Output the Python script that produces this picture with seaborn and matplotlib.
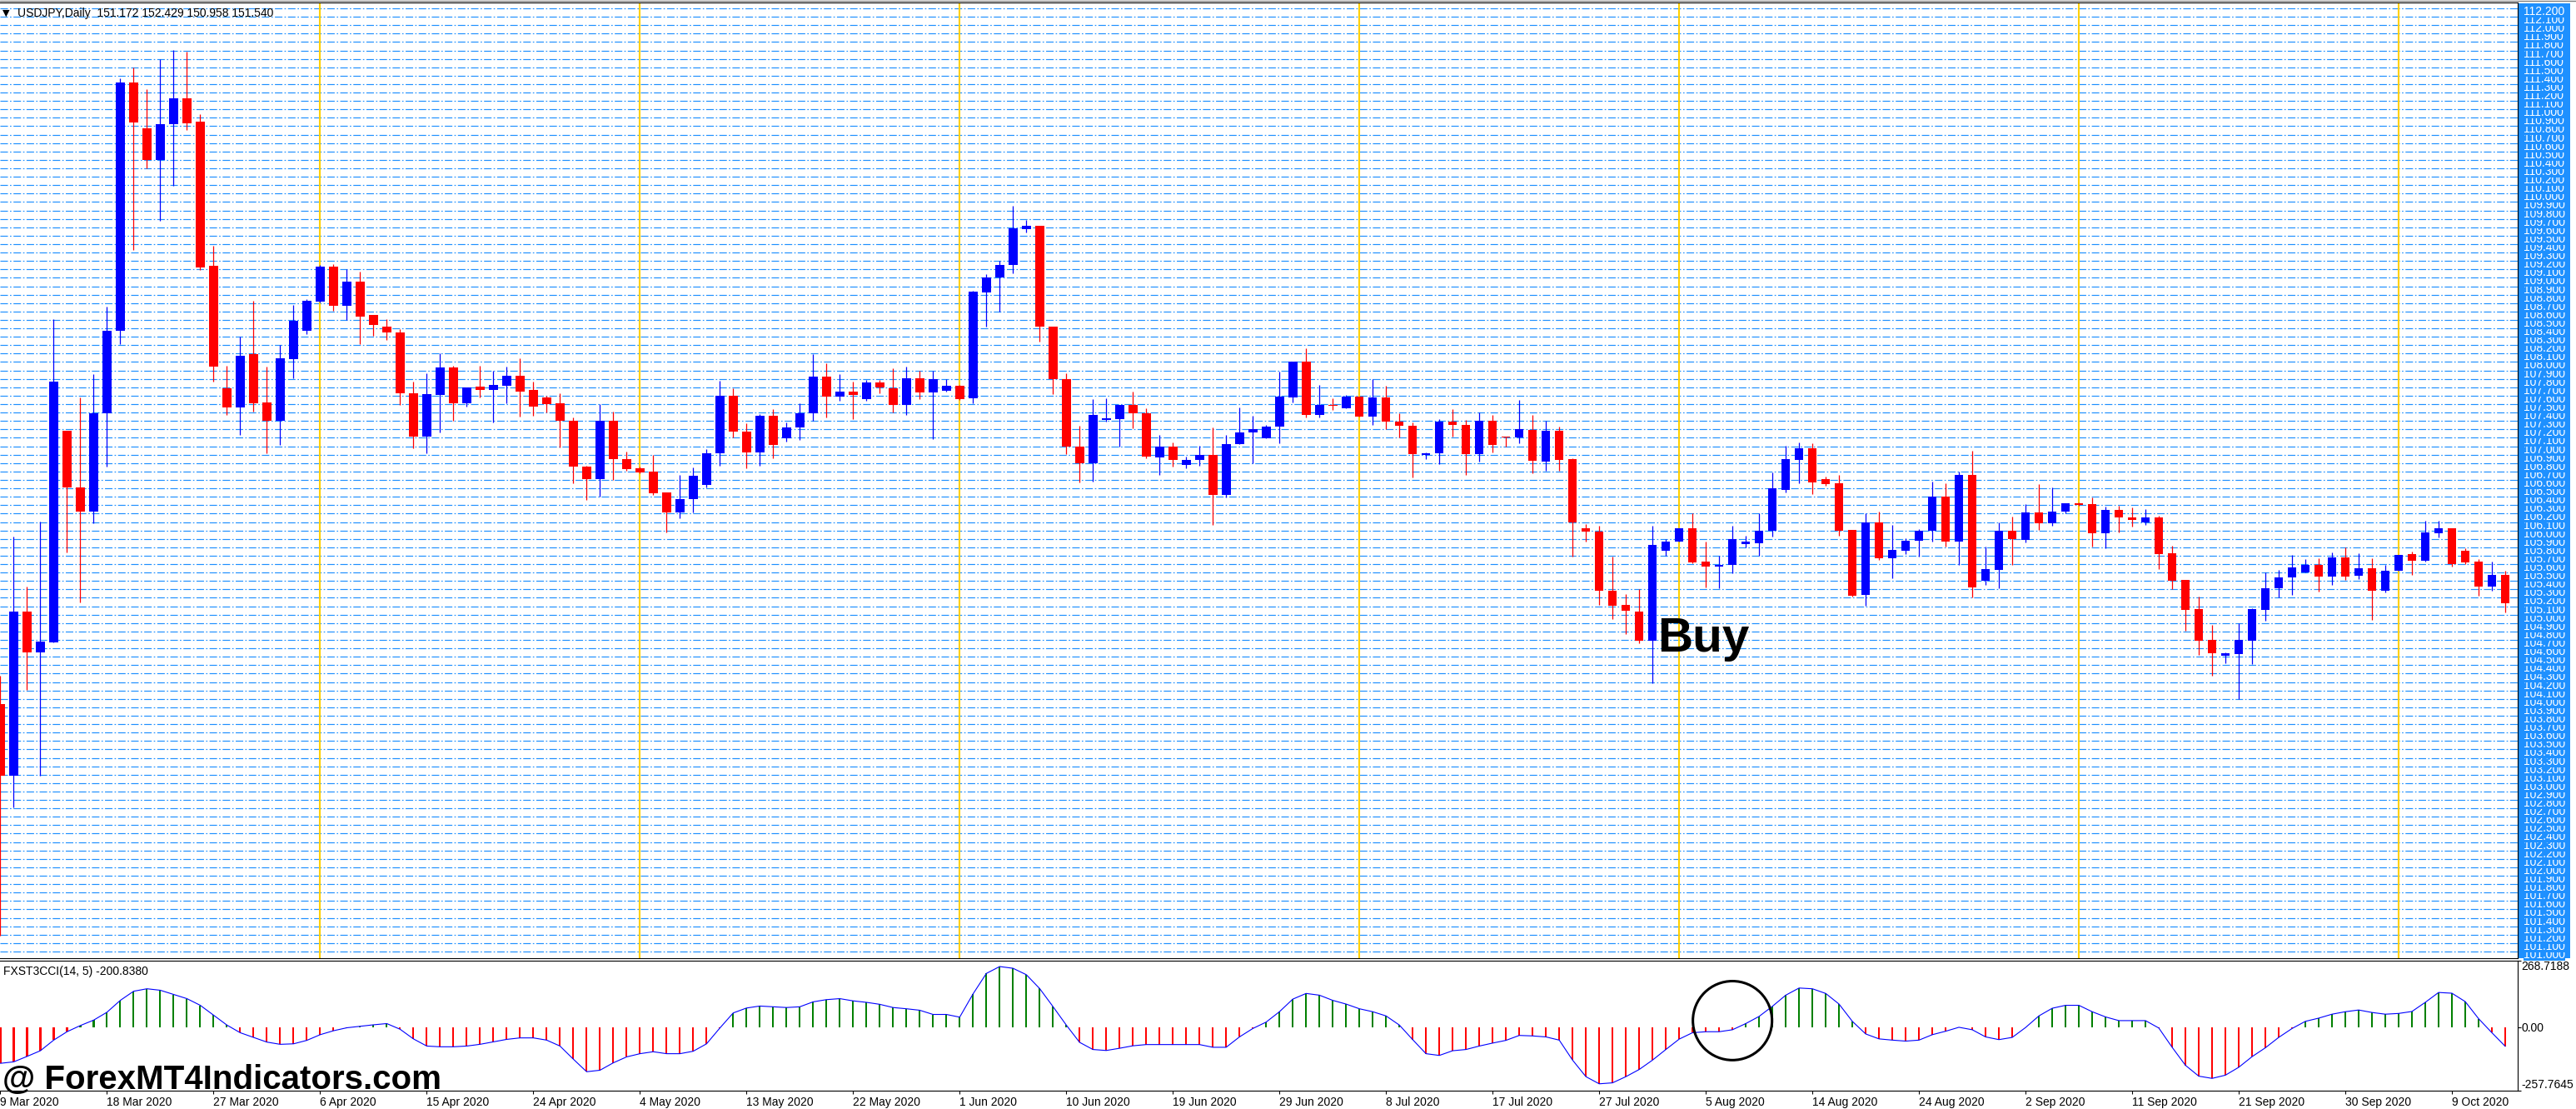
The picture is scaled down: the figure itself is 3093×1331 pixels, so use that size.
import numpy as np
import pandas as pd
import matplotlib
matplotlib.use("Agg")
import matplotlib.pyplot as plt
import matplotlib.transforms as mtransforms
from matplotlib.patches import Rectangle, Ellipse
from matplotlib.lines import Line2D
import seaborn as sns

# ---------------- data ----------------
OPEN = [
    103.94, 103.09, 105.04, 104.55, 104.67, 107.18, 106.51, 106.22, 107.39, 108.37,
    111.32, 110.78, 110.40, 110.82, 111.13, 110.85, 109.14, 107.69, 107.46, 108.09,
    107.52, 107.30, 108.03, 108.37, 108.72, 109.13, 108.67, 108.95, 108.56, 108.42,
    108.35, 107.63, 107.11, 107.61, 107.94, 107.51, 107.71, 107.67, 107.72, 107.84,
    107.67, 107.58, 107.51, 107.30, 106.76, 106.61, 107.30, 106.85, 106.74, 106.70,
    106.45, 106.21, 106.37, 106.54, 106.92, 107.60, 107.17, 106.93, 107.36, 107.09,
    107.22, 107.39, 107.83, 107.59, 107.65, 107.56, 107.76, 107.69, 107.49, 107.81,
    107.64, 107.66, 107.72, 107.57, 108.83, 109.00, 109.15, 109.58, 109.62, 108.42,
    107.80, 107.00, 106.80, 107.31, 107.32, 107.49, 107.39, 106.87, 107.00, 106.78,
    106.84, 106.90, 106.42, 107.03, 107.16, 107.09, 107.23, 107.58, 108.00, 107.37,
    107.49, 107.45, 107.59, 107.35, 107.58, 107.29, 107.24, 106.90, 106.92, 107.29,
    107.25, 106.91, 107.30, 107.11, 107.10, 107.19, 106.82, 107.18, 106.85, 106.03,
    105.99, 105.28, 105.12, 105.04, 104.69, 105.76, 105.87, 106.03, 105.63, 105.57,
    105.59, 105.84, 105.85, 106.00, 106.48, 106.84, 106.98, 106.61, 106.56, 106.01,
    105.23, 106.10, 105.67, 105.76, 105.88, 106.00, 106.40, 105.87, 106.66, 105.40,
    105.53, 106.00, 105.89, 106.21, 106.09, 106.22, 106.32, 106.31, 105.97, 106.24,
    106.15, 106.10, 106.15, 105.73, 105.41, 105.07, 104.70, 104.51, 104.53, 104.69,
    105.06, 105.31, 105.44, 105.50, 105.59, 105.45, 105.68, 105.46, 105.55, 105.28,
    105.52, 105.72, 105.64, 105.97, 106.03, 105.76, 105.63, 105.33, 105.47,
]
HIGH = [
    104.27, 105.93, 105.33, 106.11, 108.51, 107.18, 107.58, 107.86, 108.66, 111.37,
    111.50, 111.24, 111.60, 111.71, 111.69, 110.94, 109.38, 107.96, 108.30, 108.73,
    107.95, 108.20, 108.68, 108.75, 109.15, 109.16, 109.10, 109.07, 108.56, 108.51,
    108.39, 107.77, 107.87, 108.10, 107.96, 107.70, 107.96, 107.90, 107.95, 108.04,
    107.77, 107.60, 107.63, 107.34, 106.77, 107.50, 107.41, 106.94, 106.76, 106.90,
    106.45, 106.66, 106.75, 106.97, 107.78, 107.69, 107.27, 107.38, 107.44, 107.28,
    107.51, 108.09, 107.99, 107.86, 107.77, 107.79, 107.79, 107.93, 107.95, 107.90,
    107.90, 107.80, 107.73, 108.85, 109.04, 109.20, 109.86, 109.69, 109.62, 108.42,
    107.87, 107.24, 107.56, 107.57, 107.49, 107.65, 107.45, 107.13, 107.05, 106.88,
    107.01, 107.22, 107.13, 107.46, 107.36, 107.25, 107.89, 108.00, 108.16, 107.73,
    107.57, 107.61, 107.59, 107.80, 107.72, 107.39, 107.28, 106.93, 107.32, 107.44,
    107.31, 107.40, 107.37, 107.11, 107.55, 107.37, 107.30, 107.23, 106.86, 106.08,
    106.06, 105.69, 105.24, 105.30, 106.06, 105.90, 106.03, 106.20, 105.87, 105.70,
    106.06, 105.94, 106.20, 106.69, 107.01, 107.05, 107.04, 106.64, 106.66, 106.01,
    106.20, 106.22, 106.07, 105.91, 106.02, 106.58, 106.56, 106.70, 106.95, 105.81,
    106.10, 106.16, 106.31, 106.55, 106.51, 106.32, 106.33, 106.39, 106.28, 106.29,
    106.27, 106.25, 106.17, 105.82, 105.41, 105.21, 104.88, 104.55, 104.90, 105.08,
    105.50, 105.53, 105.71, 105.66, 105.67, 105.74, 105.80, 105.73, 105.67, 105.59,
    105.71, 105.75, 106.12, 106.12, 106.03, 105.79, 105.66, 105.63, 105.52,
]
LOW = [
    101.19, 102.71, 104.11, 103.09, 104.67, 105.74, 105.15, 106.09, 106.76, 108.21,
    109.33, 110.30, 109.68, 110.09, 110.76, 109.09, 107.77, 107.37, 107.13, 107.41,
    106.92, 107.02, 107.81, 108.33, 108.71, 108.61, 108.50, 108.21, 108.31, 108.26,
    107.49, 106.98, 106.92, 107.16, 107.30, 107.47, 107.58, 107.28, 107.51, 107.35,
    107.36, 107.40, 106.99, 106.56, 106.36, 106.40, 106.60, 106.71, 106.68, 106.42,
    105.98, 106.14, 106.21, 106.51, 106.77, 107.10, 106.74, 106.77, 106.86, 107.06,
    107.07, 107.30, 107.34, 107.54, 107.32, 107.54, 107.63, 107.40, 107.37, 107.56,
    107.08, 107.65, 107.55, 107.51, 108.42, 108.60, 109.05, 109.54, 108.24, 107.62,
    106.91, 106.57, 106.58, 107.29, 107.00, 107.21, 106.86, 106.66, 106.76, 106.74,
    106.77, 106.07, 106.39, 107.03, 106.80, 107.09, 107.04, 107.52, 107.34, 107.34,
    107.43, 107.45, 107.35, 107.25, 107.20, 107.10, 106.63, 106.85, 106.79, 107.11,
    106.66, 106.82, 106.93, 107.00, 107.04, 106.68, 106.71, 106.71, 105.69, 105.87,
    105.12, 104.95, 104.77, 104.66, 104.19, 105.70, 105.87, 105.61, 105.32, 105.31,
    105.49, 105.80, 105.70, 105.93, 106.45, 106.56, 106.43, 106.53, 105.94, 105.21,
    105.11, 105.65, 105.43, 105.72, 105.69, 105.87, 105.81, 105.59, 105.20, 105.35,
    105.31, 105.59, 105.86, 106.01, 106.06, 106.20, 106.29, 105.81, 105.79, 105.98,
    106.05, 106.07, 105.54, 105.30, 104.81, 104.52, 104.27, 104.42, 104.00, 104.41,
    104.93, 105.20, 105.23, 105.50, 105.27, 105.35, 105.41, 105.42, 104.94, 105.26,
    105.52, 105.47, 105.63, 105.92, 105.57, 105.60, 105.22, 105.28, 105.03,
]
CLOSE = [
    103.09, 105.04, 104.55, 104.68, 107.77, 106.51, 106.22, 107.39, 108.37, 111.32,
    110.84, 110.40, 110.82, 111.13, 110.83, 109.12, 107.95, 107.46, 108.07, 107.51,
    107.30, 108.04, 108.49, 108.73, 109.13, 108.67, 108.95, 108.54, 108.44, 108.35,
    107.63, 107.11, 107.62, 107.94, 107.51, 107.70, 107.67, 107.73, 107.84, 107.65,
    107.47, 107.50, 107.30, 106.76, 106.61, 107.30, 106.85, 106.73, 106.69, 106.44,
    106.21, 106.37, 106.65, 106.92, 107.60, 107.17, 106.93, 107.36, 107.02, 107.22,
    107.39, 107.83, 107.59, 107.65, 107.61, 107.76, 107.70, 107.49, 107.81, 107.64,
    107.80, 107.72, 107.56, 108.84, 109.00, 109.15, 109.59, 109.62, 108.42, 107.80,
    107.00, 106.80, 107.37, 107.33, 107.49, 107.39, 106.88, 107.00, 106.84, 106.84,
    106.90, 106.42, 107.03, 107.16, 107.20, 107.23, 107.59, 108.00, 107.37, 107.49,
    107.48, 107.59, 107.35, 107.58, 107.29, 107.24, 106.91, 106.92, 107.29, 107.25,
    106.91, 107.30, 107.02, 107.10, 107.20, 106.83, 107.18, 106.84, 106.10, 105.99,
    105.28, 105.11, 105.05, 104.69, 105.83, 105.87, 106.03, 105.62, 105.57, 105.59,
    105.90, 105.87, 106.00, 106.50, 106.85, 106.98, 106.57, 106.55, 106.00, 105.22,
    106.10, 105.67, 105.77, 105.88, 106.00, 106.40, 105.87, 106.66, 105.32, 105.54,
    106.00, 105.90, 106.21, 106.09, 106.22, 106.32, 106.30, 105.97, 106.24, 106.15,
    106.13, 106.15, 105.72, 105.40, 105.06, 104.69, 104.54, 104.54, 104.70, 105.07,
    105.31, 105.44, 105.56, 105.59, 105.45, 105.68, 105.45, 105.55, 105.28, 105.52,
    105.71, 105.64, 105.98, 106.03, 105.60, 105.62, 105.33, 105.47, 105.14,
]
CCI = [
    -147, -141, -119, -96, -53, -19, 6, 28, 60, 108,
    145, 155, 149, 132, 115, 88, 48, 8, -23, -42,
    -61, -70, -68, -54, -31, -15, -3, 3, 9, 14,
    -9, -48, -77, -80, -80, -77, -70, -60, -50, -44,
    -44, -53, -77, -130, -181, -175, -145, -121, -108, -100,
    -108, -108, -98, -68, -4, 57, 77, 85, 82, 79,
    82, 102, 111, 115, 106, 100, 92, 79, 74, 68,
    51, 51, 40, 134, 217, 245, 238, 212, 156, 83,
    8, -62, -91, -95, -86, -76, -71, -71, -71, -71,
    -71, -82, -82, -40, -6, 20, 62, 113, 136, 129,
    108, 93, 74, 62, 45, 8, -51, -108, -115, -96,
    -91, -77, -65, -54, -34, -36, -40, -53, -134, -201,
    -230, -226, -201, -172, -134, -91, -49, -23, -19, -19,
    -11, 14, 43, 84, 129, 158, 155, 136, 93, 23,
    -28, -48, -53, -57, -53, -31, -17, -1, -11, -40,
    -51, -42, -2, 45, 76, 88, 88, 62, 41, 26,
    26, 26, -4, -82, -155, -199, -208, -195, -163, -120,
    -84, -42, -6, 23, 36, 52, 62, 69, 59, 52,
    55, 63, 100, 140, 137, 103, 34, -23, -78,
]
DATE_LABELS = [
    "9 Mar 2020", "18 Mar 2020", "27 Mar 2020", "6 Apr 2020", "15 Apr 2020",
    "24 Apr 2020", "4 May 2020", "13 May 2020", "22 May 2020", "1 Jun 2020",
    "10 Jun 2020", "19 Jun 2020", "29 Jun 2020", "8 Jul 2020", "17 Jul 2020",
    "27 Jul 2020", "5 Aug 2020", "14 Aug 2020", "24 Aug 2020", "2 Sep 2020",
    "11 Sep 2020", "21 Sep 2020", "30 Sep 2020", "9 Oct 2020",
]
SEPARATOR_BARS = [24, 48, 72, 102, 126, 156, 180]   # bars where yellow period lines sit
PRICE_LO, PRICE_HI, PRICE_STEP = 101.0, 112.2, 0.1
CCI_MIN, CCI_MAX = -257.7645, 268.7188
HEADER = "USDJPY,Daily  151.172 152.429 150.958 151.540"
IND_HEADER = "FXST3CCI(14, 5) -200.8380"

# annotation placements (data coordinates)
BUY_POS = (124.4, 104.565)
CIRCLE_CENTER = (130.0, 26.0)
CIRCLE_W, CIRCLE_H = 5.94, 320.0

# ---------------- style ----------------
sns.set_theme(style="white")
plt.rcParams["font.family"] = ["Liberation Sans", "DejaVu Sans"]
plt.rcParams["lines.scale_dashes"] = False

W, H = 3093, 1331
fig = plt.figure(figsize=(W / 100, H / 100), dpi=100, facecolor="white")


def fx(px):
    return px / W


def fy(py):
    return 1 - py / H


PLOT_RIGHT = 3023
ax = fig.add_axes([0, fy(1150), fx(PLOT_RIGHT), fy(3) - fy(1150)])
ax2 = fig.add_axes([0, fy(1309), fx(PLOT_RIGHT), fy(1153) - fy(1309)])

n = len(OPEN)
df = pd.DataFrame({"i": np.arange(n), "open": OPEN, "high": HIGH,
                   "low": LOW, "close": CLOSE, "cci": CCI})

# ---------------- main price panel ----------------
ppx = (PRICE_HI - PRICE_LO) / 1132.0
ax.set_ylim(PRICE_LO - 8 * ppx, PRICE_HI + 7 * ppx)
ax.set_xlim(-0.03, PLOT_RIGHT / 16.0)
ax.set_facecolor("white")

levels = np.round(np.arange(round(PRICE_LO / PRICE_STEP), round(PRICE_HI / PRICE_STEP) + 1) * PRICE_STEP, 1)
ax.hlines(levels, 0, 1, transform=ax.get_yaxis_transform(), colors="#1E90FF",
          linewidth=0.85, linestyles=[(0, (6.5, 1.8, 1.2, 1.8))], zorder=1)

for s in SEPARATOR_BARS:
    ax.axvline(s, color="#FFD000", lw=1.5, zorder=2)

up = df["close"] >= df["open"]
ccol = np.where(up, "#0000FF", "#FF0000")
body_lo = np.minimum(df["open"], df["close"])
body_h = np.maximum((df["close"] - df["open"]).abs(), 0.012)
ax.vlines(df["i"], df["low"], df["high"], colors=ccol, linewidth=0.9, zorder=3)
ax.bar(df["i"], body_h, bottom=body_lo, width=0.66, color=ccol, linewidth=0, zorder=4)

ax.set_xticks([])
ax.set_yticks([])
ax.spines["left"].set_visible(False)
for side in ["top", "right", "bottom"]:
    ax.spines[side].set_color("black")
    ax.spines[side].set_linewidth(0.8)

# price scale column
fig.add_artist(Rectangle((fx(3024), fy(1150)), fx(3086) - fx(3024), fy(4) - fy(1150),
                         transform=fig.transFigure, facecolor="#1E90FF",
                         edgecolor="none", zorder=-1))
lab_tr = mtransforms.offset_copy(ax.get_yaxis_transform(), fig=fig, x=7, y=-4, units="dots")
for v in levels:
    ax.text(1.0, v, f"{v:.3f}", transform=lab_tr, ha="left", va="center",
            color="white", fontsize=10, clip_on=False, zorder=6,
            bbox=dict(facecolor="#1E90FF", edgecolor="none", pad=0))

ax.text(BUY_POS[0], BUY_POS[1], "Buy", fontsize=42, fontweight="bold",
        color="black", ha="left", va="baseline", zorder=7)

# ---------------- indicator panel ----------------
icol = np.where(df["cci"] >= 0, "#008000", "#FF0000")
ax2.bar(df["i"], df["cci"], width=0.13, color=icol, linewidth=0, zorder=2)
sns.lineplot(x=df["i"], y=df["cci"], ax=ax2, color="#0000FF", linewidth=0.8,
             estimator=None, zorder=3)
ax2.set_ylim(CCI_MIN, CCI_MAX)
ax2.set_xlim(-0.03, PLOT_RIGHT / 16.0)
ax2.set_xlabel("")
ax2.set_ylabel("")
ax2.set_facecolor("white")
ax2.spines["left"].set_visible(False)
for side in ["top", "right", "bottom"]:
    ax2.spines[side].set_color("black")
    ax2.spines[side].set_linewidth(0.8)

ax2.set_xticks(np.arange(0, n, 8)[:len(DATE_LABELS)])
ax2.set_xticklabels(DATE_LABELS, ha="left", fontsize=10, color="black")
ax2.tick_params(axis="x", bottom=True, length=3, width=0.8, pad=2,
                direction="out", color="black")
ax2.yaxis.tick_right()
ax2.set_yticks([CCI_MIN, 0, CCI_MAX])
ax2.set_yticklabels(["", "", ""])
ax2.tick_params(axis="y", right=True, left=False, length=3, width=0.8,
                direction="out", color="black")

ind_tr = mtransforms.offset_copy(ax2.get_yaxis_transform(), fig=fig, x=4, y=0, units="dots")
ax2.text(1.0, CCI_MAX, f"{CCI_MAX:.4f}", transform=ind_tr, ha="left", va="top",
         fontsize=10, color="black", clip_on=False)
ax2.text(1.0, 0, "0.00", transform=ind_tr, ha="left", va="center_baseline",
         fontsize=10, color="black", clip_on=False)
ax2.text(1.0, CCI_MIN, f"{CCI_MIN:.4f}", transform=ind_tr, ha="left", va="bottom",
         fontsize=10, color="black", clip_on=False)

ax2.add_patch(Ellipse(CIRCLE_CENTER, CIRCLE_W, CIRCLE_H, fill=False,
                      edgecolor="black", linewidth=2.2, zorder=6, clip_on=False))

# ---------------- headers / watermark ----------------
fig.add_artist(Line2D([0, 1], [fy(0.5), fy(0.5)], transform=fig.transFigure,
                      color="#808080", lw=1.0))
fig.text(fx(3), fy(16), "\u25BC", fontsize=8, va="center", ha="left",
         color="black", family=["DejaVu Sans"])
fig.text(fx(21), fy(16), HEADER, fontsize=10, va="center", ha="left", color="black")
fig.text(fx(4), fy(1166), IND_HEADER, fontsize=10, va="center", ha="left", color="black")
fig.text(fx(3), fy(1307), "@ ForexMT4Indicators.com", fontsize=29,
         fontweight="bold", va="baseline", ha="left", color="black", zorder=10)

fig.savefig("out.png", dpi=100, facecolor="white")
